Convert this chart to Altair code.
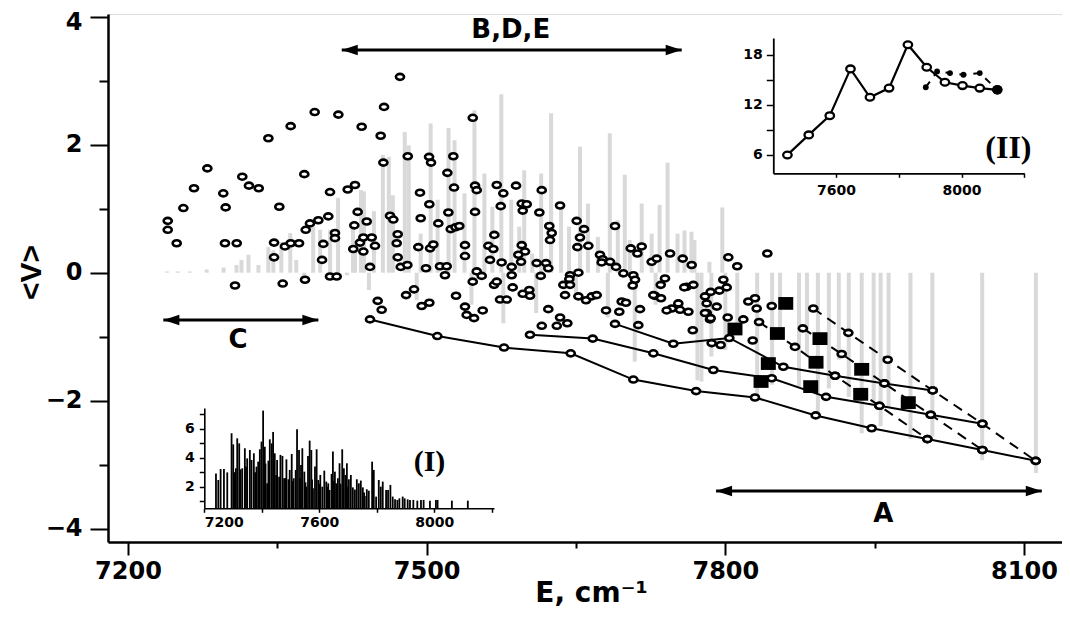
import altair as alt
import pandas as pd

# ---------------- main panel data ----------------
scatter_E = [7239.9, 7239.9, 7248.9, 7255.6, 7266.3, 7279.7, 7295.7, 7298.1, 7297.4, 7309.2, 7307.5, 7314.8,
             7321.5, 7331.3, 7341.0, 7346.7, 7346.7, 7352.0, 7355.4, 7357.7, 7363.4, 7363.4, 7371.8, 7377.1,
             7378.5, 7377.8, 7382.8, 7387.5, 7391.2, 7394.9, 7396.2, 7401.2, 7402.9, 7402.9, 7407.9, 7407.9,
             7409.6, 7411.3, 7420.7, 7426.3, 7427.3, 7428.0, 7430.7, 7433.0, 7434.7, 7436.4, 7436.4, 7439.8,
             7443.1, 7444.8, 7448.1, 7453.8, 7457.2, 7456.5, 7463.2, 7466.5, 7469.9, 7470.9, 7470.9, 7473.2,
             7546.3, 7481.0, 7502.4, 7504.4, 7526.8, 7520.8, 7474.0, 7480.6, 7493.3, 7502.7, 7494.0, 7511.7,
             7491.6, 7503.4, 7506.7, 7499.3, 7513.4, 7520.1, 7518.4, 7521.8, 7527.5, 7524.2, 7529.0, 7532.8,
             7538.5, 7538.5, 7548.6, 7550.3, 7548.6, 7568.0, 7562.0, 7567.0, 7563.6, 7575.3, 7585.4, 7550.3,
             7555.3, 7546.3, 7570.4, 7577.0, 7574.4, 7589.8, 7595.5, 7600.5, 7596.5, 7613.2, 7615.6, 7634.0,
             7595.5, 7598.8, 7592.1, 7594.8, 7585.4, 7610.5, 7619.9, 7622.2, 7614.6, 7623.2, 7625.6, 7623.9,
             7650.7, 7658.1, 7654.0, 7651.4, 7662.4, 7644.0, 7643.3, 7652.4, 7637.3, 7644.0, 7674.1, 7676.8,
             7675.8, 7684.2, 7690.2, 7697.6, 7705.0, 7711.7, 7716.0, 7707.6, 7709.3, 7707.0, 7689.2, 7726.0,
             7731.1, 7744.5, 7757.2, 7766.2, 7729.4, 7735.4, 7739.4, 7735.1, 7752.8, 7754.5, 7761.2, 7767.9,
             7746.2, 7762.9, 7450.8, 7454.8, 7479.3, 7487.3, 7495.0, 7502.7, 7529.5, 7538.5, 7540.2, 7547.6,
             7556.3, 7567.7, 7570.4, 7573.7, 7580.4, 7586.4, 7596.5, 7603.1, 7603.8, 7622.2, 7634.0, 7639.0,
             7652.4, 7660.1, 7665.8, 7670.8, 7680.2, 7693.5, 7695.9, 7714.3, 7727.7, 7741.1, 7758.8, 7615.6,
             7630.7, 7641.3, 7700.2, 7712.6, 7767.3, 7781.3, 7784.6, 7791.4, 7802.4, 7818.1, 7823.1, 7831.5,
             7786.3, 7795.3, 7827.5, 7803.0, 7812.0, 7842.2, 7798.0, 7801.4, 7779.6, 7785.3, 7794.0, 7781.3,
             7779.6, 7785.3, 7829.8, 7846.6]
scatter_V = [0.81, 0.67, 0.46, 1.01, 1.32, 1.63, 1.24, 1.02, 0.46, 0.46, -0.20, 1.50,
             1.36, 1.32, 2.10, 0.47, 0.24, 1.03, -0.17, 0.41, 2.29, 0.46, 0.46, 1.54,
             0.67, -0.11, 0.77, 2.51, 0.82, 0.20, 0.45, 0.88, 1.26, -0.06, 0.62, 0.54,
             -0.06, 2.47, 1.30, 0.37, 0.74, 1.37, 0.95, 0.47, 2.28, 0.33, 0.55, 0.80,
             0.09, 0.55, 0.42, 2.14, 2.59, 1.72, 0.89, 0.83, 0.46, 0.24, 0.60, 3.06,
             2.42, 1.82, 1.81, 1.72, 1.82, 1.56, 0.09, 0.12, 1.25, 1.07, 0.85, 0.77,
             0.40, 0.38, 0.44, 0.07, 0.10, 0.10, -0.04, 0.94, 1.33, 0.68, 0.71, 0.73,
             0.43, 0.26, 1.36, 1.29, 0.95, 0.59, 0.42, 0.37, 0.20, 0.16, 0.09, 0.02,
             -0.05, -0.14, 1.37, 1.24, 1.04, 1.36, 1.08, 1.07, 0.97, 0.94, 1.29, 1.05,
             0.43, 0.33, 0.28, 0.17, -0.04, 0.15, 0.15, 0.07, -0.05, 0.73, 0.62, 0.51,
             0.81, 0.68, 0.55, 0.40, 0.42, -0.04, -0.10, 0.00, -0.19, -0.19, 0.28, 0.21,
             0.16, 0.17, 0.09, -0.01, 0.38, 0.30, 0.41, -0.04, -0.11, -0.20, 0.73, 0.17,
             0.22, 0.30, 0.22, 0.12, -0.36, -0.40, -0.09, -0.19, -0.48, -0.58, -0.22, -0.19,
             -0.56, -0.61, -0.44, -0.58, -0.35, -0.26, -0.52, -0.47, -0.36, -0.53, -0.66, -0.71,
             -0.59, -0.19, -0.14, -0.42, -0.42, -0.23, -0.33, -0.27, -0.36, -0.57, -0.70, -0.35,
             -0.37, -0.43, -0.37, -0.35, -0.59, -0.61, -0.45, -0.57, -0.35, -0.59, -0.23, -0.83,
             -0.83, -0.79, -0.47, -0.82, -0.90, -0.63, -0.73, -0.53, -0.70, -0.73, -0.45, -0.56,
             -1.10, -1.13, -1.06, 0.24, 0.10, 0.30, -0.11, -0.23, -0.37, -0.30, -0.28, -0.48,
             -0.63, -0.71, -0.40, -0.52]

# gray spectrum bars of the main panel
gray_E = [7239, 7250, 7262, 7279, 7296, 7309, 7314, 7321, 7331, 7341, 7346, 7354, 7363, 7369, 7377, 7386,
          7393, 7403, 7411, 7420, 7426, 7428, 7434, 7437, 7442, 7447, 7456, 7462, 7466, 7478, 7482, 7490,
          7494, 7504, 7511, 7522, 7528, 7538, 7545, 7548, 7558, 7566, 7575, 7577, 7585, 7593, 7598, 7606,
          7610, 7615, 7625, 7635, 7643, 7650, 7654, 7662, 7672, 7682, 7684, 7692, 7699, 7704, 7709, 7716,
          7726, 7730, 7734, 7742, 7752, 7759, 7766, 7769, 7772, 7776, 7784, 7786, 7797, 7800, 7812, 7832,
          7847, 7855, 7874, 7882, 7893, 7904, 7914, 7924, 7937, 7949, 7956, 7964, 7986, 8008, 8058, 8112]
gray_V = [0.02, 0.02, 0.02, 0.05, 0.08, 0.12, 0.2, 0.28, 0.12, 0.4, 0.35, 0.48, 0.62, 0.2, -0.16, 0.72,
          0.67, 0.67, 1.17, -0.04, 0.7, 0.38, 1.29, 1.27, -0.27, 0.96, 1.84, 1.81, 1.21, 2.2, 1.99, -0.43,
          0.61, 2.33, 1.14, 2.26, 2.07, 1.24, -0.5, 2.54, 1.55, 1.03, 2.79, -0.79, 1.14, 0.72, 1.6, 0.3,
          -0.63, 1.55, 2.49, 1.03, 0.72, -0.4, 1.97, 1.08, 0.56, -0.7, 2.18, 0.82, 1.53, 0.51, -1.39, 1.08,
          0.61, -0.5, 1.06, 1.72, 0.61, 0.66, 0.64, 0.51, -1.68, -1.7, 0.17, -1.31, 1.02, -1.21, -0.95, -2.0,
          -1.75, -1.0, -1.78, -1.31, -2.25, -1.81, -1.36, -1.94, -2.51, -2.0, -2.4, -2.1, -2.6, -2.56, -2.93, -3.13]

# progressions (solid chains) and dashed connections
L1_E = [7443.1, 7510.7, 7577.7, 7644.7, 7707.6, 7770.6, 7829.8, 7890.8, 7947.0, 8003.0, 8058.2, 8111.8]
L1_V = [-0.73, -0.99, -1.17, -1.26, -1.67, -1.85, -1.95, -2.23, -2.43, -2.60, -2.77, -2.94]
L2_E = [7603.8, 7666.8, 7727.7, 7788.0, 7846.6, 7901.2, 7954.8, 8006.3, 8058.2]
L2_V = [-0.97, -1.03, -1.26, -1.52, -1.65, -1.94, -2.08, -2.22, -2.36]
L3_E = [7689.2, 7747.8, 7804.0, 7858.3, 7910.2, 7959.8, 8008.3]
L3_V = [-0.80, -1.11, -1.02, -1.47, -1.61, -1.73, -1.84]
D1_E = [7888.4, 7923.6, 7963.1, 8008.3, 8058.2, 8111.8]
D1_V = [-0.56, -0.94, -1.36, -1.84, -2.36, -2.94]
D2_E = [7877.9, 7916.9, 7959.8, 8006.3, 8058.2]
D2_V = [-0.87, -1.27, -1.73, -2.22, -2.77]
D3_E = [7833.9, 7870.0, 7910.2, 7954.8, 8003.0]
D3_V = [-0.77, -1.16, -1.61, -2.08, -2.60]

square_E = [7860.7, 7809.7, 7852.3, 7895.1, 7843.2, 7891.1, 7937.0, 7835.9, 7885.8, 7936.0, 7983.8]
square_V = [-0.48, -0.88, -0.95, -1.03, -1.42, -1.40, -1.51, -1.70, -1.78, -1.90, -2.03]

arrow_start = [7414.7, 7235.5, 7790.7]
arrow_end = [7756.2, 7391.2, 8117.9]
arrow_V = [3.48, -0.74, -3.41]
label_text = ["B,D,E", "C", "A"]
label_E = [7584.5, 7310.6, 7958.8]
label_V = [3.66, -1.18, -3.89]

# ---------------- inset (I) data ----------------
ins1_E = [7240.6, 7248.7, 7256.8, 7268.3, 7279.9, 7294.9, 7300.7, 7305.0, 7309.9, 7314.6, 7321.5, 7326.0,
          7331.9, 7341.1, 7345.0, 7349.2, 7358.5, 7364.3, 7372.4, 7377.0, 7381.6, 7387.4, 7393.2, 7399.0,
          7404.7, 7410.5, 7413.0, 7418.6, 7423.0, 7427.9, 7434.8, 7439.4, 7445.2, 7450.0, 7453.3, 7460.2,
          7464.9, 7471.8, 7477.6, 7482.0, 7485.7, 7492.6, 7497.2, 7504.2, 7508.0, 7511.1, 7518.0, 7522.7,
          7529.6, 7533.0, 7536.5, 7541.1, 7548.1, 7552.0, 7555.0, 7560.8, 7566.6, 7572.4, 7575.0, 7578.2,
          7585.1, 7590.9, 7596.6, 7600.0, 7603.6, 7610.5, 7617.5, 7624.4, 7628.0, 7631.3, 7635.9, 7642.9,
          7647.5, 7651.0, 7654.4, 7659.1, 7664.8, 7670.6, 7674.0, 7679.9, 7685.7, 7691.4, 7696.1, 7700.0,
          7703.0, 7709.9, 7716.9, 7724.0, 7730.7, 7737.7, 7744.6, 7751.6, 7756.0, 7758.5, 7765.4, 7772.4,
          7783.9, 7789.7, 7797.8, 7807.1, 7814.0, 7820.9, 7832.5, 7839.4, 7847.5, 7855.6, 7863.7, 7871.8,
          7878.7, 7890.3, 7897.2, 7907.6, 7915.7, 7927.3, 7941.2, 7953.9, 7963.1, 7985.1, 8005.9, 8011.7,
          8061.4, 8116.9]
ins1_V = [2.92, 2.46, 3.22, 3.22, 2.99, 5.70, 4.93, 3.0, 3.27, 5.35, 5.0, 3.2,
          3.27, 4.66, 3.4, 3.96, 4.54, 3.85, 4.31, 3.0, 3.39, 3.73, 4.59, 5.12,
          7.27, 4.77, 3.6, 2.23, 3.8, 5.28, 5.0, 5.79, 4.31, 2.8, 3.85, 2.69,
          4.2, 4.13, 2.58, 2.6, 3.89, 2.51, 3.16, 4.26, 2.4, 2.58, 3.16, 5.97,
          4.54, 2.6, 3.5, 4.66, 3.04, 2.3, 2.0, 4.13, 5.19, 4.54, 2.5, 1.89,
          3.39, 4.59, 2.46, 2.2, 2.81, 2.0, 3.11, 2.35, 2.0, 2.23, 1.77, 2.88,
          4.43, 2.4, 3.04, 2.23, 2.58, 3.62, 2.2, 4.59, 3.27, 2.81, 3.62, 2.0,
          2.51, 2.81, 1.95, 1.8, 2.51, 2.23, 2.42, 1.95, 1.6, 1.35, 1.82, 1.72,
          3.73, 3.16, 1.31, 2.46, 2.0, 2.35, 1.77, 1.77, 2.12, 1.31, 1.12, 1.08,
          1.19, 1.31, 1.19, 1.12, 1.08, 1.08, 1.03, 1.08, 1.08, 1.03, 1.08, 1.08,
          1.03, 1.03]

# ---------------- inset (II) data ----------------
ins2_E = [7445, 7513, 7580, 7646, 7708, 7769, 7829, 7889, 7947, 8003, 8058, 8114]
ins2_V = [6.0, 8.4, 10.7, 16.3, 12.9, 14.0, 19.2, 16.5, 14.7, 14.3, 14.0, 13.8]
ins2b_E = [7886, 7922, 7963, 8006, 8058, 8114]
ins2b_V = [14.1, 16.0, 15.8, 15.6, 15.8, 13.8]

# ---------------- frames ----------------
scatter = pd.DataFrame({"E": scatter_E, "V": scatter_V})
gray = pd.DataFrame({"E": gray_E, "V": gray_V})
chains = []
for name, es, vs, kind in [("L1", L1_E, L1_V, "solid"), ("L2", L2_E, L2_V, "solid"), ("L3", L3_E, L3_V, "solid"),
                           ("D1", D1_E, D1_V, "dash"), ("D2", D2_E, D2_V, "dash"), ("D3", D3_E, D3_V, "dash")]:
    for e, v in zip(es, vs):
        chains.append({"E": e, "V": v, "grp": name, "kind": kind})
chains = pd.DataFrame(chains)
squares = pd.DataFrame({"E": square_E, "V": square_V})
arrows = pd.DataFrame({"E": arrow_start, "E2": arrow_end, "V": arrow_V})
labels = pd.DataFrame({"E": label_E, "V": label_V, "t": label_text})
ins1 = pd.DataFrame({"Ei": ins1_E, "Vi": ins1_V})
ins2 = pd.DataFrame({"Ej": ins2_E, "Vj": ins2_V})
ins2b = pd.DataFrame({"Ej": ins2b_E, "Vj": ins2b_V})

FONT = "DejaVu Sans"
ELLIPSE = "M-1,0A1,0.74,0,1,1,1,0A1,0.74,0,1,1,-1,0Z"
ELLIPSE2 = "M-1,0A1,0.8,0,1,1,1,0A1,0.8,0,1,1,-1,0Z"
RECT = "M-1,-0.85L1,-0.85L1,0.85L-1,0.85Z"
HEAD_L = "M0,0L2,-0.65L2,0.65Z"
HEAD_R = "M0,0L-2,-0.65L-2,0.65Z"

TOP = 14  # page y of the plot's top edge (8px margin + 6px padding)

# ---------------- main scales / axes ----------------
xs = alt.Scale(domain=[7179.9, 8138.2], nice=False, zero=False)
ys = alt.Scale(domain=[-4.208, 4.042], nice=False, zero=False)
x_axis = alt.Axis(values=[7200, 7350, 7500, 7650, 7800, 7950, 8100], format="d",
                  labelExpr="(datum.value - 7200) % 300 == 0 ? datum.label : ''",
                  tickSize={"condition": {"test": "(datum.value - 7200) % 300 == 0", "value": 13}, "value": 6},
                  tickWidth=2, tickColor="black", domainColor="black", domainWidth=2.5,
                  labelFont=FONT, labelFontWeight="bold", labelFontSize=24, labelColor="black",
                  labelPadding=4, grid=False,
                  title="E, cm\u207b\u00b9", titleFont=FONT, titleFontWeight="bold", titleFontSize=28,
                  titleColor="black", titleX=483, titleY=59, titleAlign="center", titleBaseline="alphabetic")
y_axis = alt.Axis(values=[-4, -3, -2, -1, 0, 1, 2, 3, 4], format="d",
                  labelExpr="datum.value % 2 == 0 ? datum.label : ''",
                  labelOffset={"condition": {"test": "datum.value == 4", "value": 6}, "value": 0},
                  tickSize={"condition": {"test": "datum.value % 2 == 0", "value": 18}, "value": 9},
                  tickWidth=2, tickColor="black", domainColor="black", domainWidth=2.5,
                  labelFont=FONT, labelFontWeight="bold", labelFontSize=24, labelColor="black",
                  labelPadding=8, grid=False,
                  title="<V>", titleFont="Liberation Sans", titleFontWeight="bold", titleFontSize=30,
                  titleColor="black", titleX=-68, titleY=272 - TOP, titleAlign="center",
                  titleBaseline="alphabetic", titleAngle=270)
X = alt.X("E:Q", scale=xs, axis=x_axis)
Y = alt.Y("V:Q", scale=ys, axis=y_axis)

gray_l = alt.Chart(gray).mark_rule(color="#d9d9d9", strokeWidth=4).encode(x=X, y=Y, y2=alt.datum(0))
solid_l = alt.Chart(chains).transform_filter("datum.kind == 'solid'").mark_line(
    color="black", strokeWidth=2).encode(x=X, y=Y, detail="grp:N")
dash_l = alt.Chart(chains).transform_filter("datum.kind == 'dash'").mark_line(
    color="black", strokeWidth=2, strokeDash=[10, 7]).encode(x=X, y=Y, detail="grp:N")
chain_pts = alt.Chart(chains).mark_point(shape=ELLIPSE, size=66, filled=False, fill="white", fillOpacity=1,
                                         stroke="black", strokeWidth=2.6, opacity=1).encode(x=X, y=Y)
scat = alt.Chart(scatter).mark_point(shape=ELLIPSE, size=66, filled=False, fill="white", fillOpacity=1,
                                     stroke="black", strokeWidth=2.6, opacity=1).encode(x=X, y=Y)
sq = alt.Chart(squares).mark_point(shape=RECT, size=225, filled=True, color="black", opacity=1).encode(x=X, y=Y)
arr_line = alt.Chart(arrows).mark_rule(color="black", strokeWidth=3).encode(x=X, x2="E2:Q", y=Y)
arr_l = alt.Chart(arrows).mark_point(shape=HEAD_L, size=256, filled=True, color="black", opacity=1).encode(x=X, y=Y)
arr_r = alt.Chart(arrows).mark_point(shape=HEAD_R, size=256, filled=True, color="black", opacity=1).encode(
    x=alt.X("E2:Q", scale=xs, axis=x_axis), y=Y)
lab = alt.Chart(labels).mark_text(font=FONT, fontWeight="bold", fontSize=26, color="black",
                                  align="center", baseline="alphabetic").encode(x=X, y=Y, text="t:N")

main = alt.layer(gray_l, solid_l, dash_l, chain_pts, scat, sq, arr_line, arr_l, arr_r, lab)

# ---------------- inset (I) ----------------
x1s = alt.Scale(domain=[7200, 8208], range=[96.3, 386], nice=False, zero=False)
y1s = alt.Scale(domain=[0.5, 7.45], range=[508.3 - TOP, 408 - TOP], nice=False, zero=False)
x1_axis = alt.Axis(orient="bottom", offset=-33.7, values=[7200, 7400, 7600, 7800, 8000, 8200], format="d",
                   labelExpr="(datum.value - 7200) % 400 == 0 && datum.value < 8200 ? datum.label : ''",
                   tickSize=4, tickWidth=1.5, tickColor="black", domainColor="black", domainWidth=1.6,
                   labelFont=FONT, labelFontWeight="bold", labelFontSize=14, labelColor="black",
                   labelPadding=3, grid=False, title=None)
y1_axis = alt.Axis(orient="left", offset=-96.3, values=[1, 2, 3, 4, 5, 6, 7], format="d",
                   labelExpr="datum.value % 2 == 0 ? datum.label : ''",
                   tickSize=5, tickWidth=1.5, tickColor="black", domainColor="black", domainWidth=1.6,
                   labelFont=FONT, labelFontWeight="bold", labelFontSize=14, labelColor="black",
                   labelPadding=5, grid=False, title=None)
X1 = alt.X("Ei:Q", scale=x1s, axis=x1_axis)
Y1 = alt.Y("Vi:Q", scale=y1s, axis=y1_axis)
bars1 = alt.Chart(ins1).mark_rule(color="black", strokeWidth=1.8).encode(x=X1, y=Y1, y2=alt.datum(0.5))
lab1 = alt.Chart(pd.DataFrame({"Ei": [7983.6], "Vi": [3.08], "t": ["(I)"]})).mark_text(
    font="Liberation Serif", fontWeight="bold", fontSize=30, color="black", align="center",
    baseline="alphabetic").encode(x=X1, y=Y1, text="t:N")
inset1 = alt.layer(bars1, lab1)

# ---------------- inset (II) ----------------
x2s = alt.Scale(domain=[7400, 8200], range=[665.3, 916.3], nice=False, zero=False)
y2s = alt.Scale(domain=[3.8, 20], range=[173.3 - TOP, 38 - TOP], nice=False, zero=False)
x2_axis = alt.Axis(orient="bottom", offset=-368.7, values=[7600, 7800, 8000, 8200], format="d",
                   labelExpr="datum.value % 400 == 0 && datum.value < 8200 ? datum.label : ''",
                   tickSize=4, tickWidth=1.5, tickColor="black", domainColor="black", domainWidth=1.8,
                   labelFont=FONT, labelFontWeight="bold", labelFontSize=14, labelColor="black",
                   labelPadding=6, grid=False, title=None)
y2_axis = alt.Axis(orient="left", offset=-665.3, values=[6, 9, 12, 15, 18], format="d",
                   labelExpr="datum.value % 6 == 0 ? datum.label : ''",
                   tickSize=7, tickWidth=1.5, tickColor="black", domainColor="black", domainWidth=1.8,
                   labelFont=FONT, labelFontWeight="bold", labelFontSize=14, labelColor="black",
                   labelPadding=4, grid=False, title=None)
X2 = alt.X("Ej:Q", scale=x2s, axis=x2_axis)
Y2 = alt.Y("Vj:Q", scale=y2s, axis=y2_axis)
line2 = alt.Chart(ins2).mark_line(color="black", strokeWidth=2.2).encode(x=X2, y=Y2)
dash2 = alt.Chart(ins2b).mark_line(color="black", strokeWidth=2, strokeDash=[7, 7]).encode(x=X2, y=Y2)
pts2 = alt.Chart(ins2).mark_point(shape=ELLIPSE2, size=72, filled=False, fill="white", fillOpacity=1,
                                  stroke="black", strokeWidth=2.3, opacity=1).encode(x=X2, y=Y2)
dots2 = alt.Chart(ins2b).mark_point(shape="circle", size=34, filled=True, color="black", opacity=1).encode(x=X2, y=Y2)
end2 = alt.Chart(ins2.tail(1)).mark_point(shape="circle", size=95, filled=True, color="black", opacity=1).encode(x=X2, y=Y2)
lab2 = alt.Chart(pd.DataFrame({"Ej": [8149.3], "Vj": [5.63], "t": ["(II)"]})).mark_text(
    font="Liberation Serif", fontWeight="bold", fontSize=32, color="black", align="center",
    baseline="alphabetic").encode(x=X2, y=Y2, text="t:N")
inset2 = alt.layer(line2, dash2, pts2, dots2, end2, lab2)

chart = alt.layer(main, inset1, inset2).resolve_scale(x="independent", y="independent").properties(
    width=954, height=542 - TOP, autosize=alt.AutoSizeParams(type="none"),
    padding={"left": 100, "top": TOP - 8, "right": 0, "bottom": 66}
).configure_view(stroke="black", strokeWidth=2).configure(background="white")

chart.save("out.html", embed_options={"renderer": "svg", "actions": False})
